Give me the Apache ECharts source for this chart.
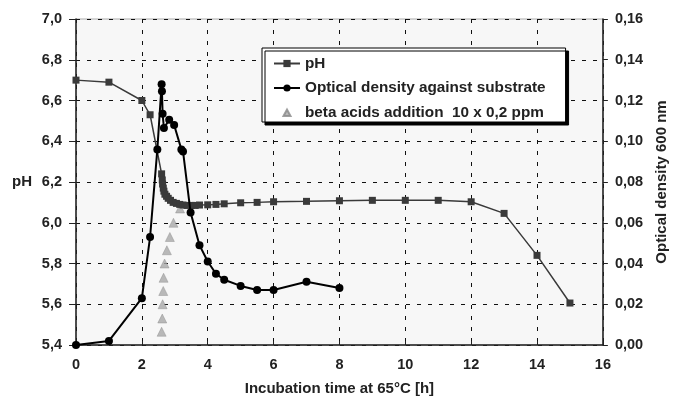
<!DOCTYPE html>
<html>
<head>
<meta charset="utf-8">
<script src="https://cdn.jsdelivr.net/npm/echarts@6/dist/echarts.min.js"></script>
<style>
  html, body { margin: 0; padding: 0; background: #fff; }
  #chart { width: 677px; height: 401px; }
</style>
</head>
<body>
<div id="chart"></div>
<script>
// pH (left axis)
const phTime = [0, 1, 2, 2.25, 2.6, 2.62, 2.63, 2.65, 2.67, 2.7, 2.75, 2.8, 2.87, 2.95, 3.05, 3.15, 3.25, 3.37, 3.5, 3.62, 3.75, 4, 4.25, 4.5, 5, 5.5, 6, 7, 8, 9, 10, 11, 12, 13, 14, 15]
const phValues = [6.70, 6.69, 6.60, 6.53, 6.24, 6.21, 6.19, 6.17, 6.155, 6.14, 6.13, 6.12, 6.11, 6.10, 6.095, 6.09, 6.087, 6.085, 6.085, 6.085, 6.087, 6.088, 6.09, 6.093, 6.098, 6.10, 6.103, 6.105, 6.108, 6.11, 6.11, 6.11, 6.103, 6.046, 5.84, 5.606]

// optical density (right axis)
const odTime = [0, 1, 2, 2.25, 2.47, 2.6, 2.61, 2.63, 2.67, 2.83, 2.98, 3.2, 3.25, 3.48, 3.75, 4, 4.25, 4.5, 5, 5.5, 6, 7, 8]
const odValues = [0, 0.002, 0.023, 0.053, 0.096, 0.128, 0.1245, 0.1135, 0.1065, 0.1105, 0.108, 0.096, 0.095, 0.065, 0.049, 0.041, 0.035, 0.032, 0.029, 0.027, 0.027, 0.031, 0.028]

// beta acids additions (left axis position)
const betaTime = [2.60, 2.62, 2.63, 2.65, 2.66, 2.69, 2.76, 2.85, 2.96, 3.16]
const betaValues = [5.465, 5.53, 5.60, 5.665, 5.73, 5.80, 5.865, 5.93, 6.00, 6.07]

const seriesNames = ['pH', 'Optical density against substrate', 'beta acids addition  10 x 0,2 ppm']

function zip(xs, ys) {
  return xs.map((x, i) => [x, ys[i]])
}

const chart = echarts.init(document.getElementById('chart'))
const font = 'Liberation Sans, Arial, sans-serif'
const txt = { fontFamily: font, fontWeight: 'bold', fontSize: 15, color: '#222' }
const gridLine = {
  show: true,
  lineStyle: { color: '#111', width: 1, type: [4, 7] }
}

const option = {
  animation: false,
  textStyle: { fontFamily: font },
  grid: {
    left: 76, right: 73, top: 19, bottom: 55,
    show: true,
    backgroundColor: '#f7f7f7',
    borderColor: '#aaa',
    borderWidth: 1
  },
  legend: {
    orient: 'vertical',
    left: 262,
    top: 48,
    padding: [8, 20, 2, 11],
    itemGap: 9.5,
    itemWidth: 26,
    itemHeight: 9,
    backgroundColor: '#fff',
    borderColor: '#000',
    borderWidth: 1,
    shadowColor: '#000',
    shadowBlur: 0,
    shadowOffsetX: 3,
    shadowOffsetY: 3,
    textStyle: Object.assign({}, txt, { fontSize: 15.3 }),
    data: [
      { name: seriesNames[0] },
      { name: seriesNames[1] },
      { name: seriesNames[2], icon: 'path://M0,0M26,9M9.5,8L13,1.5L16.5,8Z' }
    ]
  },
  xAxis: {
    type: 'value',
    min: 0,
    max: 16,
    interval: 2,
    name: 'Incubation time at 65°C [h]',
    nameLocation: 'middle',
    nameGap: 36,
    nameTextStyle: txt,
    axisLine: { show: true, lineStyle: { color: '#222', width: 1.5 } },
    axisTick: { show: true, inside: true, length: 4, lineStyle: { color: '#222' } },
    axisLabel: Object.assign({}, txt, { fontSize: 14.5, margin: 12 }),
    splitLine: gridLine
  },
  yAxis: [
    {
      type: 'value',
      min: 5.4,
      max: 7.0,
      interval: 0.2,
      name: 'pH',
      nameLocation: 'middle',
      nameRotate: 0,
      nameGap: 44,
      nameTextStyle: txt,
      axisLine: { show: true, lineStyle: { color: '#222', width: 1.5 } },
      axisTick: { show: true, length: 7, lineStyle: { color: '#222' } },
      axisLabel: Object.assign({}, txt, {
        fontSize: 14.5, margin: 14,
        formatter: v => v.toFixed(1).replace('.', ',')
      }),
      splitLine: gridLine
    },
    {
      type: 'value',
      min: 0,
      max: 0.16,
      interval: 0.02,
      name: 'Optical density 600 nm',
      nameLocation: 'middle',
      nameRotate: 90,
      nameGap: 47,
      nameTextStyle: txt,
      axisLine: { show: true, lineStyle: { color: '#222', width: 1.5 } },
      axisTick: { show: true, length: 5, lineStyle: { color: '#222' } },
      axisLabel: Object.assign({}, txt, {
        fontSize: 14.5, margin: 12,
        formatter: v => v.toFixed(2).replace('.', ',')
      }),
      splitLine: { show: false }
    }
  ],
  series: [
    {
      name: seriesNames[0],
      type: 'line',
      yAxisIndex: 0,
      data: zip(phTime, phValues),
      symbol: 'rect',
      symbolSize: 7,
      lineStyle: { color: '#3a3a3a', width: 1.5 },
      itemStyle: { color: '#3a3a3a' },
      z: 3
    },
    {
      name: seriesNames[1],
      type: 'line',
      yAxisIndex: 1,
      data: zip(odTime, odValues),
      symbol: 'circle',
      symbolSize: 8,
      lineStyle: { color: '#000', width: 2 },
      itemStyle: { color: '#000' },
      z: 4
    },
    {
      name: seriesNames[2],
      type: 'scatter',
      yAxisIndex: 0,
      data: zip(betaTime, betaValues),
      symbol: 'triangle',
      symbolSize: 9,
      itemStyle: { color: '#a8a8a8', borderColor: '#888', borderWidth: 0.5 },
      z: 2
    }
  ]
}

option && chart.setOption(option)
</script>
</body>
</html>
